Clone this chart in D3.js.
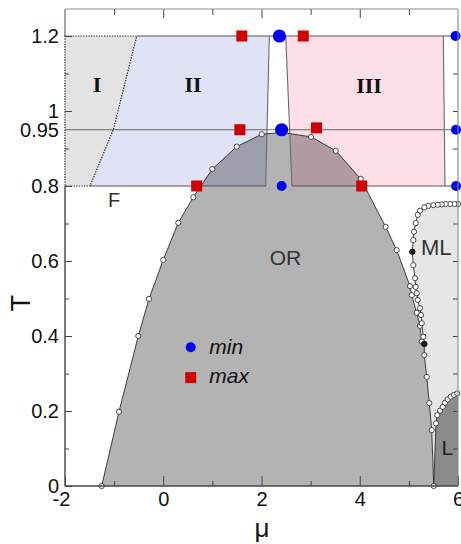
<!DOCTYPE html>
<html>
<head>
<meta charset="utf-8">
<script src="https://cdn.jsdelivr.net/npm/d3@7/dist/d3.min.js"></script>
<style>
  html, body { margin: 0; padding: 0; background: #fff; }
  svg { display: block; }
  text { font-family: "Liberation Sans", Arial, sans-serif; }
</style>
</head>
<body>
<svg id="chart" width="461" height="544"></svg>
<script>
// ---- Phase boundary of the ordered (OR) phase ----
const orMu = [-1.253, -0.901, -0.508, -0.290, 0.000, 0.306, 0.612, 0.998, 1.495, 2.004, 2.411,
              3.008, 3.511, 4.019, 4.528, 4.752, 5.023, 5.058, 5.160, 5.226, 5.261, 5.314,
              5.314, 5.363, 5.416, 5.465, 5.506];
const orT  = [0.000, 0.198, 0.400, 0.499, 0.603, 0.702, 0.770, 0.845, 0.905, 0.938, 0.943,
              0.931, 0.894, 0.819, 0.691, 0.629, 0.533, 0.509, 0.462, 0.427, 0.385, 0.379,
              0.349, 0.291, 0.221, 0.149, 0.000];

// ---- Boundary of the ML phase (joins the OR boundary at its last point) ----
const mlMu = [6.000, 5.925, 5.837, 5.750, 5.668, 5.587, 5.497, 5.395, 5.314, 5.226, 5.180,
              5.139, 5.104, 5.090, 5.070, 5.090, 5.125, 5.139, 5.160, 5.180, 5.226, 5.247,
              5.261, 5.294, 5.314];
const mlT  = [0.752, 0.752, 0.752, 0.752, 0.751, 0.750, 0.749, 0.747, 0.743, 0.734, 0.723,
              0.701, 0.678, 0.656, 0.625, 0.589, 0.554, 0.531, 0.514, 0.496, 0.474, 0.456,
              0.434, 0.398, 0.379];

// ---- Boundary of the L phase ----
const lMu = [5.506, 5.552, 5.578, 5.634, 5.689, 5.735, 5.790, 5.852, 5.919, 5.986];
const lT  = [0.000, 0.167, 0.189, 0.201, 0.211, 0.222, 0.231, 0.238, 0.243, 0.247];

// ---- Special (filled) points on the ML boundary ----
const dotMu = [5.070, 5.314];
const dotT  = [0.625, 0.379];

// ---- Regions I, II, III in the (mu, T) plane ----
const regIMu   = [-2.000, -0.540, -1.017, -1.491, -2.000];
const regIT    = [ 1.200,  1.200,  0.950,  0.800,  0.800];
const regIIMu  = [-0.540,  2.159,  2.085, -1.491, -1.017];
const regIIT   = [ 1.200,  1.200,  0.800,  0.800,  0.950];
const regIIIMu = [ 2.493,  5.701,  5.735,  2.621];
const regIIIT  = [ 1.200,  1.200,  0.800,  0.800];

// ---- Reference temperatures ----
const levels = [0.8, 0.95, 1.2];

// ---- Extrema ----
const minMu = [2.365, 2.410, 2.410, 5.950, 5.960, 5.960];
const minT  = [1.200, 0.950, 0.800, 1.200, 0.950, 0.800];
const maxMu = [1.600, 2.850, 1.560, 3.120, 0.680, 4.040];
const maxT  = [1.200, 1.200, 0.950, 0.955, 0.800, 0.800];

// ---- Ticks ----
const xTicks      = [-2, 0, 2, 4, 6];
const xMinorTicks = [-1, 1, 3, 5];
const yTicks      = [0, 0.2, 0.4, 0.6, 0.8, 0.95, 1, 1.2];
const yMinorTicks = [0.1, 0.3, 0.5, 0.7, 0.9, 1.1];
const yRightTicks = [0.1, 0.2, 0.3, 0.4, 0.5, 0.6, 0.7, 0.8, 0.9, 1.0, 1.1];

const zip = (a, b) => a.map((v, i) => [v, b[i]]);

const svg = d3.select("#chart");
const x = d3.scaleLinear().domain([-2, 6]).range([65, 458]);
const y = d3.scaleLinear().domain([0, 1.2]).range([486, 36]);
const tMax = 1.272;              // top edge of the frame
const [x0, x1] = x.range();
const yBot = y(0), yTop = y(tMax);

svg.append("rect").attr("width", 461).attr("height", 544).attr("fill", "#fff");

svg.append("defs").append("clipPath").attr("id", "plot")
  .append("rect").attr("x", x0).attr("y", yTop).attr("width", x1 - x0).attr("height", yBot - yTop);

const plot = svg.append("g").attr("clip-path", "url(#plot)");
const line = d3.line().x(d => x(d[0])).y(d => y(d[1]));
const area = pts => line(pts) + "Z";

const orPts = zip(orMu, orT);
const mlPts = zip(mlMu, mlT);
const lPts  = zip(lMu, lT);
const joinIdx = orPts.findIndex(p => p[0] === mlMu[mlMu.length - 1] && p[1] === mlT[mlT.length - 1]);
const [muLo, muHi] = x.domain();

// phase areas
plot.append("path").attr("d", area(orPts)).attr("fill", "#b3b3b3");
plot.append("path")
  .attr("d", area(mlPts.concat(orPts.slice(joinIdx + 1), [[muHi, 0]])))
  .attr("fill", "#e6e6e6");
plot.append("path")
  .attr("d", area(lPts.concat([[muHi, lT[lT.length - 1]], [muHi, 0]])))
  .attr("fill", "#8b8b8b");

// regions I, II, III
plot.append("path").attr("d", area(zip(regIMu, regIT))).attr("fill", "#e3e3e3");
plot.append("path").attr("d", area(zip(regIIMu, regIIT))).attr("fill", "#e0e3f5")
  .style("mix-blend-mode", "multiply");
plot.append("path").attr("d", area(zip(regIIIMu, regIIIT))).attr("fill", "#fce0e6")
  .style("mix-blend-mode", "multiply");

// reference temperature lines
const hl = (m0, m1, t, col, w) => plot.append("line")
  .attr("x1", x(m0)).attr("x2", x(m1)).attr("y1", y(t)).attr("y2", y(t))
  .attr("stroke", col).attr("stroke-width", w);
hl(muLo, muHi, levels[1], "#666", 1);
hl(regIMu[1], muHi, levels[2], "#555", 1.2);
hl(regIIMu[3], regIIMu[2], levels[0], "#555", 1.2);
hl(regIIIMu[3], muHi, levels[0], "#555", 1.2);

// vertical edges of II and III
const edge = (a, b) => plot.append("path").attr("d", line([a, b]))
  .attr("fill", "none").attr("stroke", "#6a6a6a").attr("stroke-width", 1.1);
edge([regIIMu[1], regIIT[1]], [regIIMu[2], regIIT[2]]);
edge([regIIIMu[0], regIIIT[0]], [regIIIMu[3], regIIIT[3]]);
edge([regIIIMu[1], regIIIT[1]], [regIIIMu[2], regIIIT[2]]);

// dotted outline of region I
svg.append("path").attr("d", area(zip(regIMu, regIT)))
  .attr("fill", "none").attr("stroke", "#222").attr("stroke-width", 1.2)
  .attr("stroke-dasharray", "1.3,1.3");

// phase boundaries
[orPts, mlPts, lPts].forEach(pts => {
  plot.append("path").attr("d", line(pts)).attr("fill", "none")
    .attr("stroke", "#2a2a2a").attr("stroke-width", 0.9);
});

// simulation points on the boundaries
const dots = orPts.concat(mlPts, lPts.slice(1));
svg.append("g").selectAll("circle").data(dots).join("circle")
  .attr("cx", d => x(d[0])).attr("cy", d => y(d[1])).attr("r", 2.6)
  .attr("fill", "#fff").attr("stroke", "#222").attr("stroke-width", 0.8);
svg.append("g").selectAll("circle").data(zip(dotMu, dotT)).join("circle")
  .attr("cx", d => x(d[0])).attr("cy", d => y(d[1])).attr("r", 3)
  .attr("fill", "#1a1a1a");

// extrema markers
svg.append("g").selectAll("rect").data(zip(maxMu, maxT)).join("rect")
  .attr("x", d => x(d[0]) - 5.5).attr("y", d => y(d[1]) - 5.5)
  .attr("width", 11).attr("height", 11).attr("fill", "#d00000");
svg.append("g").selectAll("circle").data(zip(minMu, minT)).join("circle")
  .attr("cx", d => x(d[0])).attr("cy", d => y(d[1]))
  .attr("r", d => (d[1] >= 0.95 && d[0] < 3) ? 6.6 : 5)
  .attr("fill", "#0000f5");

// ---- axes and frame ----
const axisStyle = g => {
  g.select(".domain").remove();
  g.selectAll(".tick line").attr("stroke", "#444");
  g.selectAll(".tick text").attr("fill", "#111").style("font-size", "20px")
    .style("font-family", '"Liberation Sans", Arial, sans-serif');
};

svg.append("g").attr("transform", `translate(0,${yBot})`)
  .call(d3.axisBottom(x).tickValues(xTicks).tickSize(-10).tickPadding(6)
    .tickFormat(d => d < 0 ? "-" + Math.abs(d) : String(d)))
  .call(axisStyle)
  .call(g => g.selectAll(".tick text").filter(d => d < 0).attr("dx", "-4"));
svg.append("g").attr("transform", `translate(0,${yBot})`)
  .call(d3.axisBottom(x).tickValues(xMinorTicks).tickSize(-5).tickFormat(""))
  .call(axisStyle);

svg.append("g").attr("transform", `translate(0,${yTop})`)
  .call(d3.axisTop(x).tickValues(xTicks.slice(1, -1)).tickSize(-9).tickFormat(""))
  .call(axisStyle);
svg.append("g").attr("transform", `translate(0,${yTop})`)
  .call(d3.axisTop(x).tickValues(xMinorTicks).tickSize(-6).tickFormat(""))
  .call(axisStyle);

svg.append("g").attr("transform", `translate(${x0},0)`)
  .call(d3.axisLeft(y).tickValues(yTicks).tickSize(-7).tickPadding(6)
    .tickFormat(d => String(d)))
  .call(axisStyle)
  .call(g => g.selectAll(".tick line").filter(d => d === 0.95).remove());
svg.append("g").attr("transform", `translate(${x0},0)`)
  .call(d3.axisLeft(y).tickValues(yMinorTicks).tickSize(-4).tickFormat(""))
  .call(axisStyle);

svg.append("g").attr("transform", `translate(${x1},0)`)
  .call(d3.axisRight(y).tickValues(yRightTicks).tickSize(-5).tickFormat(""))
  .call(axisStyle);

// frame
const seg = (a, b, c, d, col, w) => svg.append("line")
  .attr("x1", a).attr("y1", b).attr("x2", c).attr("y2", d)
  .attr("stroke", col).attr("stroke-width", w);
seg(x0, yBot, x1, yBot, "#444", 1.4);
seg(x0, yBot, x0, y(regIT[3]), "#444", 1.4);
seg(x0, y(regIT[0]), x0, yTop, "#666", 1.2);
seg(x0, yTop, x1, yTop, "#888", 1.1);
seg(x1, yTop, x1, yBot, "#888", 1.1);

// ---- text ----
const label = (txt, mu, t, opts) => {
  const el = svg.append("text").attr("x", x(mu)).attr("y", y(t)).text(txt)
    .attr("fill", opts.fill || "#333").style("font-size", opts.size + "px")
    .attr("text-anchor", opts.anchor || "start");
  if (opts.family) el.style("font-family", opts.family);
  if (opts.weight) el.style("font-weight", opts.weight);
  if (opts.italic) el.style("font-style", "italic");
  return el;
};
const serif = '"Liberation Serif", "Times New Roman", serif';
label("I",   -1.349, 1.051, { size: 22, anchor: "middle", family: serif, weight: "bold", fill: "#111" });
label("II",   0.606, 1.051, { size: 22, anchor: "middle", family: serif, weight: "bold", fill: "#111" });
label("III",  4.188, 1.049, { size: 22, anchor: "middle", family: serif, weight: "bold", fill: "#111" });
label("F",   -1.125, 0.744, { size: 20 });
label("OR",   2.489, 0.589, { size: 21, anchor: "middle" });
label("ML",   5.247, 0.616, { size: 22 });
label("L",    5.664, 0.083, { size: 21, fill: "#222" });

// legend
svg.append("circle").attr("cx", x(0.559)).attr("cy", y(0.370)).attr("r", 5).attr("fill", "#0000f5");
svg.append("rect").attr("x", x(0.559) - 5.5).attr("y", y(0.289) - 5.5)
  .attr("width", 11).attr("height", 11).attr("fill", "#d00000");
label("min", 0.937, 0.351, { size: 21, italic: true, fill: "#111" });
label("max", 0.937, 0.274, { size: 21, italic: true, fill: "#111" });

// axis titles
svg.append("text").attr("transform", "translate(29.5,303) rotate(-90)")
  .attr("text-anchor", "middle").style("font-size", "27px").attr("fill", "#111").text("T");
svg.append("text").attr("x", (x0 + x1) / 2 + 0.5).attr("y", 537)
  .attr("text-anchor", "middle").style("font-size", "26px").attr("fill", "#111").text("μ");
</script>
</body>
</html>
